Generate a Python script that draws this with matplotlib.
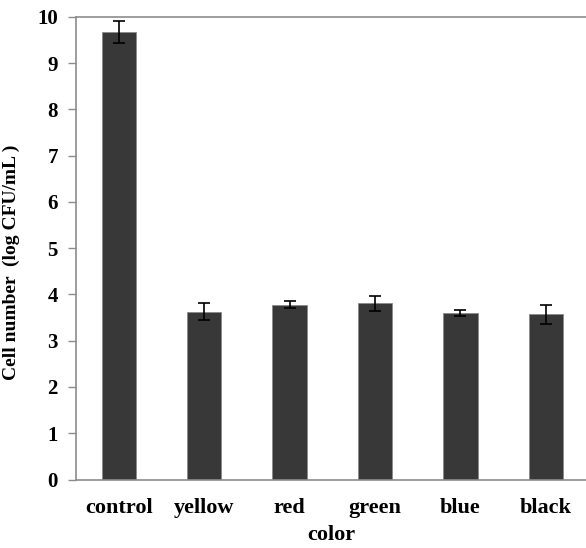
import matplotlib as mpl
import matplotlib.pyplot as plt
import numpy as np

# data
colors = ['control', 'yellow', 'red', 'green', 'blue', 'black']
cell_number = [9.68, 3.63, 3.78, 3.81, 3.60, 3.57]
cell_err = [0.24, 0.18, 0.08, 0.16, 0.06, 0.21]

mpl.rcParams['font.family'] = 'Liberation Serif'
mpl.rcParams['font.weight'] = 'bold'

fig = plt.figure(figsize=(5.86, 5.48), dpi=100)
ax = fig.add_axes([0.1297, 0.125, 0.8703, 0.844])

x = np.arange(len(colors))
ax.bar(x, cell_number, width=0.4, color='#383838', edgecolor='#8a8a8a', linewidth=0.6,
       yerr=cell_err, error_kw=dict(ecolor='black', elinewidth=1.2, capsize=4, capthick=1.2))

ax.set_xlim(-0.5, 5.47)
ax.set_ylim(0, 10)
ax.set_yticks(range(0, 11))
ax.set_xticks(x)
ax.set_xticklabels(colors)

# spines: excel look
for side in ['left', 'bottom', 'top']:
    ax.spines[side].set_color('#8c8c8c')
    ax.spines[side].set_linewidth(1.2)
ax.spines['right'].set_visible(False)

ax.tick_params(axis='y', direction='out', length=6, width=1, color='#8c8c8c',
               labelsize=15, pad=7)
ax.tick_params(axis='x', length=0, labelsize=16, pad=13)
for lab in ax.get_xticklabels() + ax.get_yticklabels():
    lab.set_fontweight('bold')

ax.set_xlabel('color', fontsize=16, fontweight='bold', labelpad=5)
ax.set_ylabel('Cell number  (log CFU/mL )', fontsize=14, fontweight='bold', labelpad=6)
ax.yaxis.set_label_coords(-0.11, 0.47)

fig.savefig('out.png', dpi=100)
